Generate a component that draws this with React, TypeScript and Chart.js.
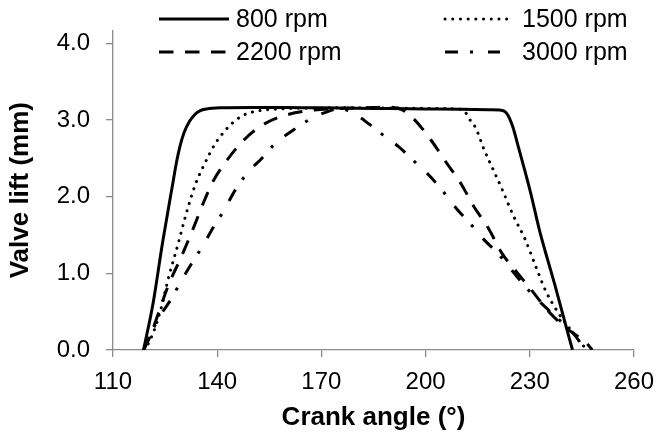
import { useEffect, useRef } from 'react';
import { Chart, registerables } from 'chart.js';

Chart.register(...registerables);

// Crank angle (°) and valve lift (mm) per engine speed
const angle800 = [118.8, 121.5, 124.3, 127.2, 128.2, 129.3, 130.5, 132, 133.5, 135, 137, 141, 150, 160, 170, 180, 190, 200, 210, 218, 221.5, 222.5, 223.3, 224.2, 225.2, 226.3, 228.1, 230.3, 232.8, 235, 237.1, 239.9, 242.3];
const lift800 = [0, 0.6, 1.41, 2.17, 2.43, 2.66, 2.84, 2.98, 3.07, 3.12, 3.145, 3.16, 3.165, 3.165, 3.16, 3.155, 3.15, 3.145, 3.14, 3.135, 3.13, 3.12, 3.09, 3.02, 2.9, 2.72, 2.42, 2.04, 1.56, 1.2, 0.87, 0.4, 0];

const angle1500 = [118.8, 120.6, 123.4, 126.2, 128.6, 130.9, 133.8, 136.6, 139, 141.3, 144.1, 147.4, 151.7, 156.4, 165, 180, 195, 205, 210, 211.5, 212.5, 214.4, 216.8, 219.6, 222, 225.3, 228.6, 231.9, 234.7, 238, 241.3, 244.2, 246.5];
const lift1500 = [0, 0.12, 0.47, 0.98, 1.36, 1.75, 2.17, 2.45, 2.66, 2.81, 2.95, 3.06, 3.12, 3.14, 3.155, 3.16, 3.155, 3.15, 3.14, 3.1, 3.02, 2.9, 2.62, 2.34, 2.1, 1.75, 1.45, 1.07, 0.76, 0.5, 0.29, 0.12, 0];

const angle2200 = [118.8, 120.6, 123, 126, 129.5, 132.6, 136.4, 138.8, 142.7, 147.9, 153.6, 160.2, 167.7, 175, 182, 189, 193, 196.5, 201.7, 205.9, 210.2, 213.8, 218.2, 222, 226.2, 230, 235.7, 240.4, 246.5, 248];
const lift2200 = [0, 0.17, 0.47, 0.85, 1.2, 1.53, 1.96, 2.2, 2.47, 2.75, 2.95, 3.07, 3.13, 3.15, 3.16, 3.17, 3.14, 3.02, 2.73, 2.45, 2.17, 1.88, 1.58, 1.26, 1.02, 0.81, 0.49, 0.29, 0.08, 0];

const angle3000 = [118.8, 121.8, 123.9, 126.7, 129.5, 132.8, 135.6, 139, 141.8, 145.1, 148.9, 152.6, 156.4, 161.6, 166.3, 172.4, 175.5, 178, 179.3, 182.8, 187.6, 192.3, 197, 201.2, 205, 208.8, 213, 216.8, 220.6, 224.8, 230, 236.6, 242.3, 246];
const lift3000 = [0, 0.3, 0.47, 0.66, 0.89, 1.14, 1.34, 1.61, 1.81, 2.08, 2.32, 2.49, 2.68, 2.86, 3.0, 3.12, 3.15, 3.12, 3.09, 2.98, 2.81, 2.65, 2.45, 2.27, 2.07, 1.85, 1.64, 1.44, 1.27, 1.04, 0.76, 0.47, 0.23, 0];

const seriesNames = ['800 rpm', '1500 rpm', '2200 rpm', '3000 rpm'];
const xTickValues = [110, 140, 170, 200, 230, 260];
const yTickValues = [0, 1, 2, 3, 4];

const FONT = '"Liberation Sans", Arial, sans-serif';
const AXIS_GREY = '#8a8a8a';
const INK = '#000000';
const LINE_W = 3;

type LineStyle = { dash: number[]; cap: CanvasLineCap };
const lineStyles: LineStyle[] = [
  { dash: [], cap: 'butt' },
  { dash: [0.1, 7.6], cap: 'round' },
  { dash: [14.5, 11.5], cap: 'butt' },
  { dash: [13, 12, 3, 15], cap: 'butt' },
];

// Legend slots: two columns, two rows, drawn over the top of the plot
const legendSlots = [
  { x0: 159, x1: 229, tx: 236, y: 19 },
  { x0: 445, x1: 510, tx: 522, y: 19 },
  { x0: 159, x1: 229, tx: 236, y: 52 },
  { x0: 445, x1: 500, tx: 522, y: 52 },
];

const cornerLegend = {
  id: 'cornerLegend',
  afterDraw(chart: Chart) {
    const ctx = chart.ctx;
    ctx.save();
    seriesNames.forEach((name, i) => {
      const slot = legendSlots[i];
      const st = lineStyles[i];
      ctx.beginPath();
      ctx.setLineDash(st.dash);
      ctx.lineCap = st.cap;
      ctx.lineWidth = LINE_W;
      ctx.strokeStyle = INK;
      ctx.moveTo(slot.x0, slot.y);
      ctx.lineTo(slot.x1, slot.y);
      ctx.stroke();
      ctx.setLineDash([]);
      ctx.fillStyle = INK;
      ctx.font = `25px ${FONT}`;
      ctx.textAlign = 'left';
      ctx.textBaseline = 'middle';
      ctx.fillText(name, slot.tx, slot.y + 1);
    });
    ctx.restore();
  },
};

const toPoints = (xs: number[], ys: number[]) => xs.map((x, i) => ({ x, y: ys[i] }));

export default function App() {
  const canvasRef = useRef<HTMLCanvasElement | null>(null);

  useEffect(() => {
    const canvas = canvasRef.current;
    if (!canvas) return;
    const series = [
      toPoints(angle800, lift800),
      toPoints(angle1500, lift1500),
      toPoints(angle2200, lift2200),
      toPoints(angle3000, lift3000),
    ];
    const chart = new Chart(canvas, {
      type: 'line',
      data: {
        datasets: series.map((pts, i) => ({
          label: seriesNames[i],
          data: pts,
          borderColor: INK,
          backgroundColor: INK,
          borderWidth: LINE_W,
          borderDash: lineStyles[i].dash,
          borderCapStyle: lineStyles[i].cap,
          borderJoinStyle: 'round',
          pointRadius: 0,
          pointHoverRadius: 0,
          cubicInterpolationMode: 'monotone',
          fill: false,
        })),
      },
      options: {
        responsive: false,
        animation: false,
        devicePixelRatio: 1,
        layout: { padding: { top: 22, right: 22, bottom: 0, left: 0 } },
        plugins: {
          legend: { display: false },
          tooltip: { enabled: false },
        },
        scales: {
          x: {
            type: 'linear',
            min: 110,
            max: 260,
            afterBuildTicks: (s: any) => {
              s.ticks = xTickValues.map((v) => ({ value: v }));
            },
            afterFit: (s: any) => {
              s.height = 86;
            },
            ticks: {
              color: INK,
              font: { family: FONT, size: 24 },
              padding: 11,
              maxRotation: 0,
              autoSkip: false,
            },
            grid: {
              drawOnChartArea: false,
              drawTicks: true,
              tickLength: 7,
              color: AXIS_GREY,
              lineWidth: 1.3,
            },
            border: { display: true, color: AXIS_GREY, width: 1.3 },
            title: {
              display: true,
              text: 'Crank angle (°)',
              color: INK,
              font: { family: FONT, size: 26, weight: 'bold' },
              padding: { top: 0, bottom: 3 },
            },
          },
          y: {
            type: 'linear',
            min: 0,
            max: 4.17,
            afterBuildTicks: (s: any) => {
              s.ticks = yTickValues.map((v) => ({ value: v }));
            },
            afterFit: (s: any) => {
              s.width = 113;
            },
            ticks: {
              color: INK,
              font: { family: FONT, size: 24 },
              padding: 16,
              autoSkip: false,
              callback: (v: any) => Number(v).toFixed(1),
            },
            grid: {
              drawOnChartArea: false,
              drawTicks: true,
              tickLength: 7,
              color: AXIS_GREY,
              lineWidth: 1.3,
            },
            border: { display: true, color: AXIS_GREY, width: 1.3 },
            title: {
              display: true,
              text: 'Valve lift (mm)',
              color: INK,
              font: { family: FONT, size: 26, weight: 'bold' },
              padding: { top: 5, bottom: 0 },
            },
          },
        },
      },
      plugins: [cornerLegend],
    });
    return () => chart.destroy();
  }, []);

  return (
    <div style={{ position: 'absolute', left: 0, top: 0, width: 665, height: 436, background: '#ffffff' }}>
      <canvas ref={canvasRef} width={665} height={436} style={{ display: 'block' }} />
    </div>
  );
}
